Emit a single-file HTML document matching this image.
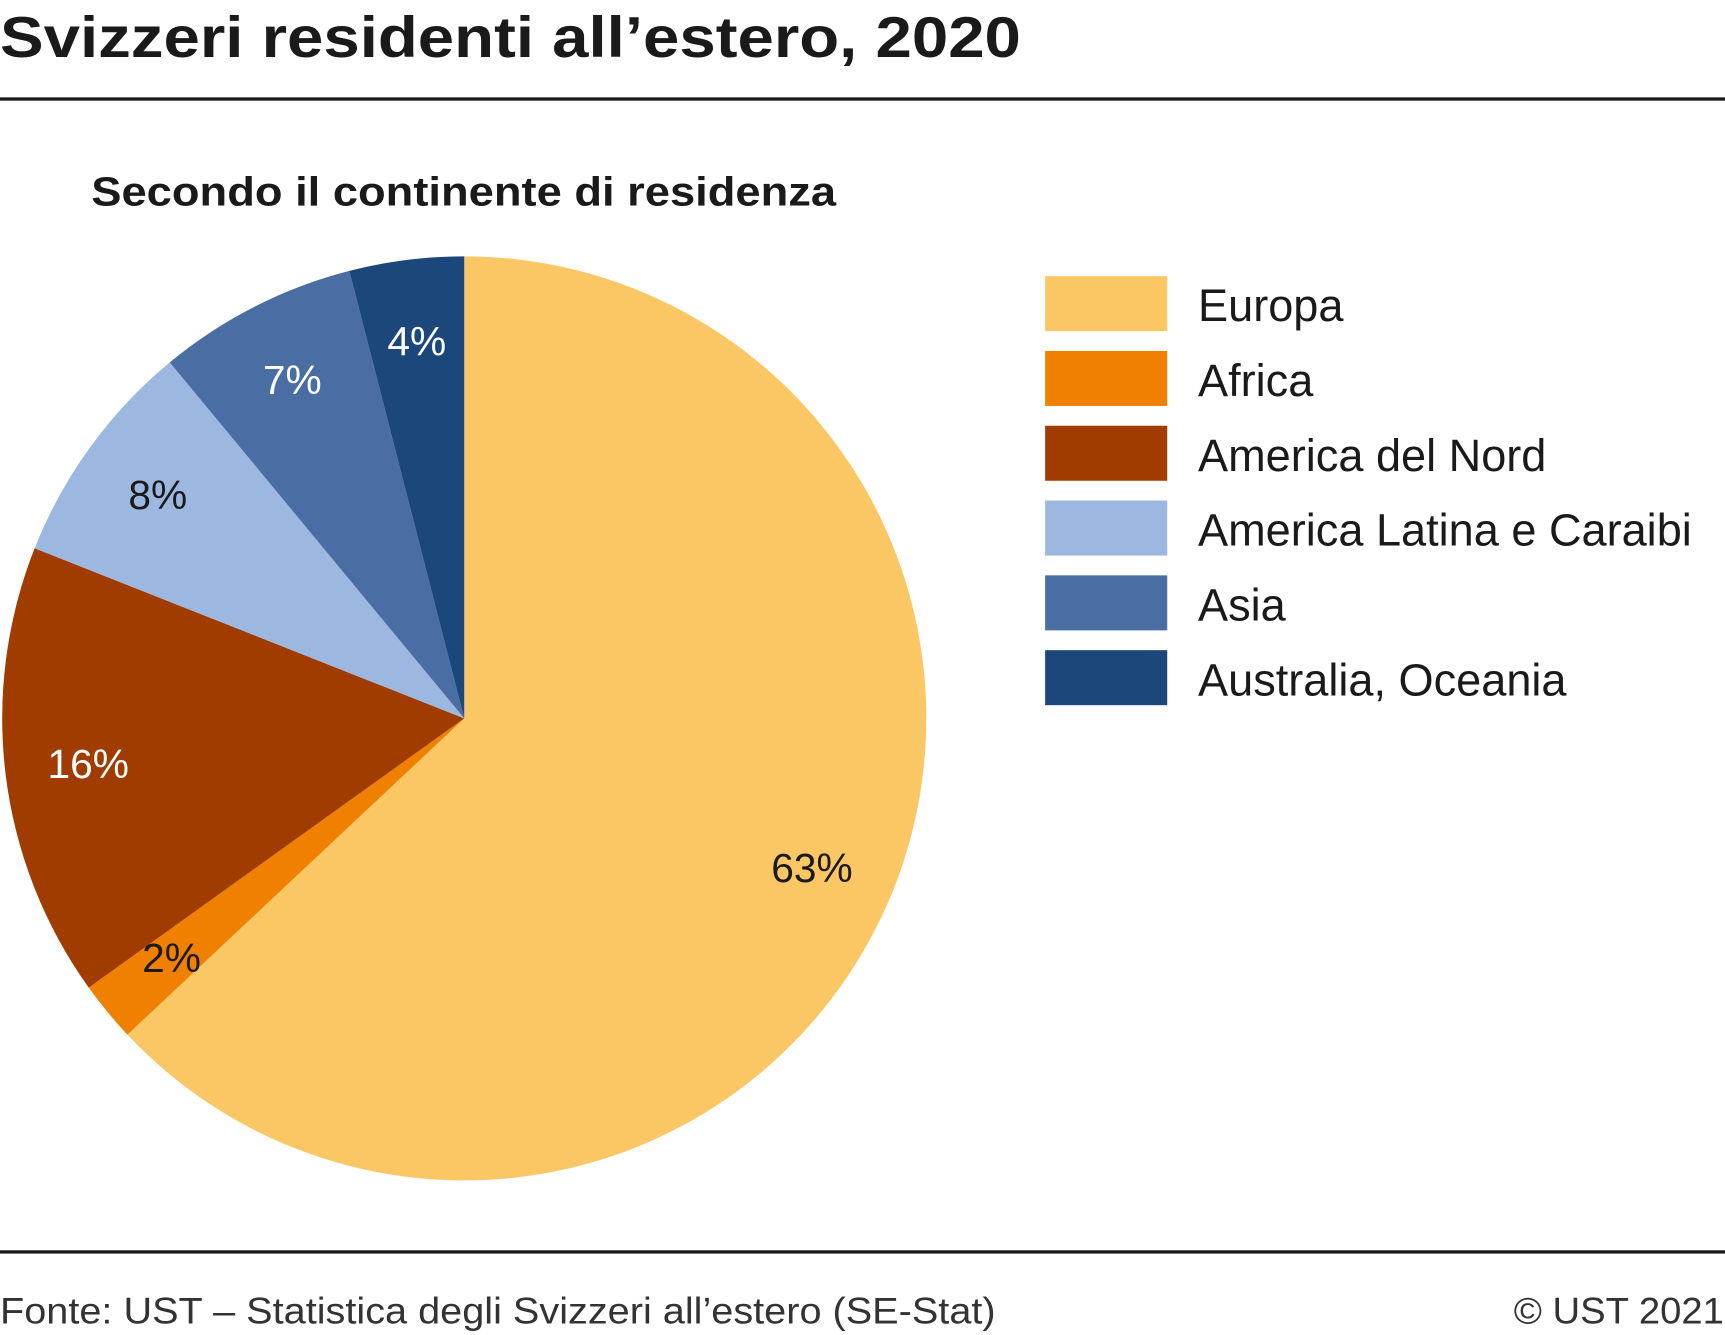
<!DOCTYPE html>
<html><head><meta charset="utf-8"><style>
html,body{margin:0;padding:0;background:#fff;}
svg{display:block;font-family:"Liberation Sans",sans-serif;}
</style></head><body>
<svg id="chart" width="1725" height="1335" viewBox="0 0 1568 1213.5" xmlns="http://www.w3.org/2000/svg">
<text x="0" y="52" font-size="52" font-weight="bold" fill="#1a1a1a" textLength="928" lengthAdjust="spacingAndGlyphs">Svizzeri residenti all’estero, 2020</text>
<rect x="0" y="88.5" width="1568" height="3" fill="#1a1a1a"/>
<text x="83" y="187" font-size="37" font-weight="bold" fill="#1a1a1a" textLength="677" lengthAdjust="spacingAndGlyphs">Secondo il continente di residenza</text>
<g id="slices"></g>
<g id="labels"></g>
<g id="legend"></g>
<rect x="0" y="1136.5" width="1568" height="3" fill="#1a1a1a"/>
<text x="0" y="1203" font-size="34" fill="#333" textLength="905" lengthAdjust="spacingAndGlyphs">Fonte: UST – Statistica degli Svizzeri all’estero (SE-Stat)</text>
<text x="1376" y="1203" font-size="34" fill="#333" textLength="191" lengthAdjust="spacingAndGlyphs">© UST 2021</text>
</svg>
<script>
const categories = ["Europa","Africa","America del Nord","America Latina e Caraibi","Asia","Australia, Oceania"];
const values = [63.0, 2.1, 15.9, 8.0, 7.0, 4.0];
const valueLabels = ["63%","2%","16%","8%","7%","4%"];
const colors = ["#fbc765","#f08000","#a03c00","#9db8e0","#4a6da4","#1c477a"];
const labelColors = ["#1a1a1a","#1a1a1a","#ffffff","#1a1a1a","#ffffff","#ffffff"];
const NS="http://www.w3.org/2000/svg";
const cx=422, cy=653, r=420;
const total=values.reduce((a,b)=>a+b,0);
function pt(frac,rad){const a=frac*2*Math.PI;return [cx+rad*Math.sin(a),cy-rad*Math.cos(a)];}
const gS=document.getElementById('slices'), gL=document.getElementById('labels'), gLeg=document.getElementById('legend');
let acc=0;
values.forEach((v,i)=>{
  const f0=acc/total, f1=(acc+v)/total; acc+=v;
  const p0=pt(f0,r), p1=pt(f1,r);
  const large=(f1-f0)>0.5?1:0;
  const path=document.createElementNS(NS,'path');
  path.setAttribute('d',`M${cx},${cy}L${p0[0]},${p0[1]}A${r},${r} 0 ${large} 1 ${p1[0]},${p1[1]}Z`);
  path.setAttribute('fill',colors[i]);
  
  
  gS.appendChild(path);
  const lp=pt((f0+f1)/2, r*0.82);
  const t=document.createElementNS(NS,'text');
  t.setAttribute('x',lp[0]);t.setAttribute('y',lp[1]+12);
  t.setAttribute('text-anchor','middle');t.setAttribute('font-size','37');
  t.setAttribute('fill',labelColors[i]);
  t.textContent=valueLabels[i];
  
  
  gL.appendChild(t);
  const y=251+i*68;
  const sw=document.createElementNS(NS,'rect');
  sw.setAttribute('x',950);sw.setAttribute('y',y);sw.setAttribute('width',111);sw.setAttribute('height',50);
  sw.setAttribute('fill',colors[i]);
  
  
  gLeg.appendChild(sw);
  const lt=document.createElementNS(NS,'text');
  lt.setAttribute('x',1089);lt.setAttribute('y',y+41);lt.setAttribute('font-size','41');lt.setAttribute('fill','#1a1a1a');
  lt.textContent=categories[i];
  
  
  gLeg.appendChild(lt);
});
</script>
</body></html>
